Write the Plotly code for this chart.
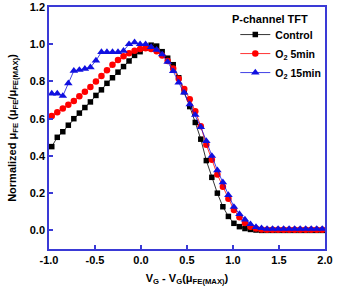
import plotly.graph_objects as go

x_vals = [round(-0.97 + 0.06 * i, 2) for i in range(50)]

control = [0.45, 0.50, 0.53, 0.565, 0.60, 0.63, 0.66, 0.69, 0.725, 0.755,
           0.79, 0.82, 0.85, 0.88, 0.91, 0.94, 0.96, 0.98, 0.995, 0.99,
           0.96, 0.925, 0.89, 0.82, 0.745, 0.665, 0.58, 0.49, 0.375, 0.285,
           0.20, 0.127, 0.075, 0.038, 0.02, 0.01, 0.005, 0.002, 0.0, 0.0,
           0.0, 0.0, 0.0, 0.0, 0.0, 0.0, 0.0, 0.0, 0.0, 0.0]

o2_5min = [0.615, 0.635, 0.655, 0.675, 0.695, 0.72, 0.745, 0.77, 0.80, 0.83,
           0.86, 0.89, 0.915, 0.935, 0.952, 0.965, 0.975, 0.978, 0.975, 0.962,
           0.94, 0.91, 0.87, 0.815, 0.76, 0.705, 0.64, 0.56, 0.46, 0.38,
           0.30, 0.235, 0.17, 0.11, 0.07, 0.04, 0.02, 0.01, 0.005, 0.003,
           0.003, 0.003, 0.003, 0.003, 0.003, 0.003, 0.003, 0.003, 0.003, 0.003]

o2_15min = [0.735, 0.735, 0.722, 0.79, 0.857, 0.862, 0.868, 0.876, 0.912, 0.958,
            0.958, 0.958, 0.958, 0.965, 1.0, 1.01, 1.0, 1.0, 0.985, 0.97,
            0.945, 0.905, 0.855, 0.794, 0.74, 0.677, 0.62, 0.555, 0.48, 0.40,
            0.323, 0.258, 0.19, 0.126, 0.088, 0.058, 0.033, 0.018, 0.012, 0.008,
            0.008, 0.008, 0.008, 0.008, 0.008, 0.008, 0.008, 0.008, 0.008, 0.008]

x_ticks = [-1.0, -0.5, 0.0, 0.5, 1.0, 1.5, 2.0]
y_ticks = [0.0, 0.2, 0.4, 0.6, 0.8, 1.0, 1.2]
legend_title = "P-channel TFT"

AX = "#3a3ad6"
FONT = "Arial, 'Liberation Sans', sans-serif"

fig = go.Figure()
fig.add_trace(go.Scatter(x=x_vals, y=control, mode="lines+markers", name="Control",
                         line=dict(color="black", width=0.8),
                         marker=dict(symbol="square", size=5.5, color="black")))
fig.add_trace(go.Scatter(x=x_vals, y=o2_5min, mode="lines+markers", name="O<sub>2</sub> 5min",
                         line=dict(color="red", width=0.8),
                         marker=dict(symbol="circle", size=6.5, color="red")))
fig.add_trace(go.Scatter(x=x_vals, y=o2_15min, mode="lines+markers", name="O<sub>2</sub> 15min",
                         line=dict(color="#1010e0", width=0.8),
                         marker=dict(symbol="triangle-up", size=7.5, color="#1010e0")))

fig.add_annotation(text=legend_title, xref="paper", yref="paper", x=0.655, y=0.95,
                   xanchor="left", yanchor="middle", showarrow=False,
                   font=dict(size=11, weight="bold", family=FONT, color="black"))

fig.update_layout(
    width=339, height=286,
    margin=dict(l=49, r=14, t=7, b=37),
    paper_bgcolor="white", plot_bgcolor="white",
    font=dict(family=FONT, size=11, color="black", weight="bold"),
    showlegend=True,
    legend=dict(x=0.675, y=0.946, xanchor="left", yanchor="top",
                font=dict(size=10.5, weight="bold"), bgcolor="rgba(0,0,0,0)",
                itemwidth=30, tracegroupgap=0),
    xaxis=dict(range=[-1.0, 2.0], tickvals=x_ticks, ticktext=[f"{v:.1f}" for v in x_ticks],
               showgrid=False, zeroline=False, showline=True, linecolor=AX, linewidth=1.5,
               mirror=True, ticks="inside", tickcolor=AX, ticklen=4, tickwidth=1.5,
               automargin=False,
               title=dict(text="V<sub>G</sub> - V<sub>G</sub>(μ<sub>FE(MAX)</sub>)", standoff=11,
                          font=dict(size=11, weight="bold"))),
    yaxis=dict(range=[-0.1, 1.2], tickvals=y_ticks, ticktext=[f"{v:.1f}" for v in y_ticks],
               showgrid=False, zeroline=False, showline=True, linecolor=AX, linewidth=1.5,
               mirror=True, ticks="inside", tickcolor=AX, ticklen=4, tickwidth=1.5,
               automargin=False,
               title=dict(text="Normalized μ<sub>FE</sub> (μ<sub>FE</sub>/μ<sub>FE(MAX)</sub>)", standoff=11,
                          font=dict(size=11, weight="bold"))),
)

fig.write_html("out.html")
